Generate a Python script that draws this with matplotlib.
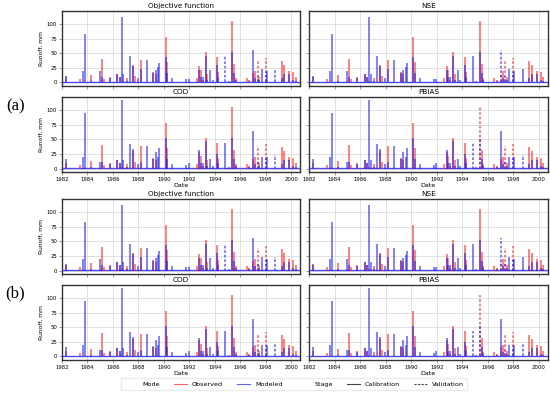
import matplotlib
matplotlib.use("Agg")
import matplotlib.pyplot as plt
from matplotlib.lines import Line2D
import numpy as np

# runoff events (decimal year)
years = [1982.34, 1983.38, 1983.62, 1983.80, 1984.27, 1984.95, 1985.14, 1985.32,
         1985.79, 1986.36, 1986.57, 1986.73, 1986.83, 1987.11, 1987.35, 1987.58,
         1987.74, 1987.96, 1988.22, 1988.69, 1989.18, 1989.37, 1989.58, 1989.65,
         1990.16, 1990.28, 1990.67, 1991.77, 1991.96, 1992.59, 1992.79, 1992.90,
         1993.06, 1993.29, 1993.42, 1993.65, 1993.84, 1994.18, 1994.28, 1994.83,
         1995.10, 1995.36, 1995.54, 1995.65, 1996.51, 1996.71, 1997.03, 1997.16,
         1997.37, 1997.49, 1997.69, 1998.00, 1998.08, 1998.75, 1999.25, 1999.46,
         1999.83, 2000.16, 2000.35]
observed = [9, 6, 0, 0, 13, 0, 40, 6,
            9, 15, 10, 3, 0, 8, 0, 30,
            12, 0, 39, 0, 18, 15, 0, 0,
            78, 36, 0, 0, 0, 8, 28, 22,
            5, 52, 15, 0, 0, 44, 18, 0,
            0, 105, 32, 8, 8, 5, 16, 20,
            38, 10, 0, 42, 0, 0, 37, 30,
            19, 18, 10]
modeled_obj = [11, 0, 20, 84, 3, 20, 10, 0,
               8, 14, 10, 113, 14, 3, 46, 28,
               0, 8, 24, 39, 17, 22, 26, 34,
               44, 17, 8, 6, 6, 0, 22, 10,
               10, 45, 5, 21, 5, 30, 10, 45,
               3, 53, 16, 5, 0, 3, 55, 8,
               12, 5, 23, 18, 20, 24, 8, 15,
               15, 5, 3]
modeled_cod = [16, 0, 20, 95, 3, 12, 12, 0,
               8, 14, 10, 117, 14, 3, 42, 34,
               0, 8, 12, 39, 17, 28, 20, 36,
               52, 17, 8, 6, 9, 0, 31, 10,
               10, 47, 5, 16, 5, 25, 10, 44,
               3, 53, 16, 5, 0, 3, 65, 8,
               12, 5, 20, 18, 20, 23, 8, 15,
               15, 5, 3]

panels = ["Objective function", "NSE", "COD", "PBIAS"]
panel_modeled = {"Objective function": modeled_obj, "NSE": modeled_obj,
                 "COD": modeled_cod, "PBIAS": modeled_cod}
# events falling into the validation stage (dashed)
validation = {"Objective function": [1994.83, 1997.37, 1998.00, 1998.75],
              "NSE": [1997.03, 1997.37, 1998.00],
              "COD": [1997.37, 1998.00, 1998.75],
              "PBIAS": [1994.83, 1995.36, 1997.37, 1998.00, 1998.75]}
period = [1982.0, 2000.7]
yticks = [0, 25, 50, 75, 100]
xticks = list(range(1982, 2001, 2))

RED = "#ff2020"
BLUE = "#2020ee"

fig = plt.figure(figsize=(5.5, 3.93), dpi=100)

lefts = [0.1127, 0.5618]
widths = [0.4327, 0.4345]
bottoms = [0.7812, 0.5623, 0.3028, 0.0840]
height = 0.1903

yrs = np.array(years)
for g in range(2):
    for r in range(2):
        for c in range(2):
            name = panels[r * 2 + c]
            row = g * 2 + r
            ax = fig.add_axes([lefts[c], bottoms[row], widths[c], height])
            val = np.isin(np.round(yrs, 2), validation[name])
            styles = [(0, (1.5, 1.0)) if v else "solid" for v in val]
            ax.plot(period, [0.3, 0.3], color=BLUE, lw=1.0, alpha=0.8, zorder=3)
            ax.vlines(yrs, 0, observed, colors=RED, linestyles=styles,
                      lw=1.3, alpha=0.6, zorder=3)
            ax.vlines(yrs, 0, panel_modeled[name], colors=BLUE, linestyles=styles,
                      lw=1.3, alpha=0.6, zorder=4)
            ax.set_xlim(period)
            ax.set_ylim(-6, 122.5)
            ax.set_xticks(xticks)
            ax.set_yticks(yticks)
            ax.grid(True, color="#dcdcdc", lw=0.6)
            ax.set_axisbelow(True)
            for s in ax.spines.values():
                s.set_color("#333333")
                s.set_linewidth(1.0)
            ax.tick_params(labelsize=3.9, length=2, width=0.5, color="#777777", pad=1.5)
            ax.set_title(name, fontsize=5.2, pad=2)
            if r == 1:
                ax.set_xlabel("Date", fontsize=4.6, labelpad=0.5)
            else:
                ax.tick_params(labelbottom=False)
            if c == 0:
                ax.set_ylabel("Runoff, mm", fontsize=4.3, labelpad=2)
            else:
                ax.tick_params(labelleft=False)

fig.text(0.028, 0.729, "(a)", fontsize=12, family="Liberation Serif", ha="center", va="center")
fig.text(0.028, 0.254, "(b)", fontsize=12, family="Liberation Serif", ha="center", va="center")

handles = [Line2D([], [], color="none"),
           Line2D([], [], color=RED, lw=0.8, alpha=0.7),
           Line2D([], [], color=BLUE, lw=0.8, alpha=0.7),
           Line2D([], [], color="none"),
           Line2D([], [], color="#444444", lw=0.8),
           Line2D([], [], color="#444444", lw=0.8, ls=(0, (2, 1.2)))]
labels = ["Mode", "Observed", "Modeled", "Stage", "Calibration", "Validation"]
fig.legend(handles, labels, ncol=6, loc="center", bbox_to_anchor=(0.535, 0.022),
           fontsize=4.6, frameon=True, edgecolor="#e6e6e6", fancybox=False,
           handlelength=2.0, columnspacing=2.2, handletextpad=0.8, borderpad=0.5)

fig.savefig("out.png", dpi=100)
